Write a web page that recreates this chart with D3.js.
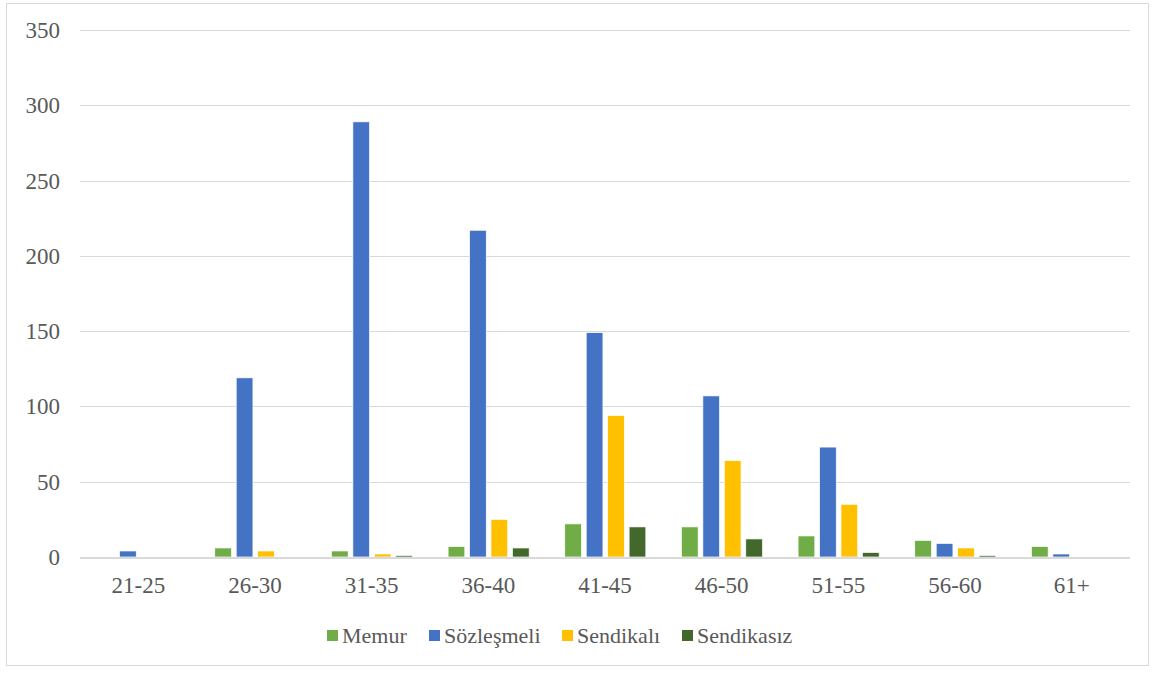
<!DOCTYPE html>
<html>
<head>
<meta charset="utf-8">
<script src="https://cdn.jsdelivr.net/npm/d3@7"></script>
<style>
  body { margin: 0; background: #fff; }
  svg { display: block; }
</style>
</head>
<body>
<script>
var ageGroups = ["21-25", "26-30", "31-35", "36-40", "41-45", "46-50", "51-55", "56-60", "61+"];
var seriesNames = ["Memur", "Sözleşmeli", "Sendikalı", "Sendikasız"];
var memur      = [0, 6, 4, 7, 22, 20, 14, 11, 7];
var sozlesmeli = [4, 119, 289, 217, 149, 107, 73, 9, 2];
var sendikali  = [0, 4, 2, 25, 94, 64, 35, 6, 0];
var sendikasiz = [0, 0, 1, 6, 20, 12, 3, 1, 0];
var yTicks = [0, 50, 100, 150, 200, 250, 300, 350];
var colors = ["#70ad47", "#4472c4", "#ffc000", "#43682b"];

function d3chart() {
  var values = [memur, sozlesmeli, sendikali, sendikasiz];

  var w = 1155, h = 677;
  var pLeft = 80, pRight = 1130, pTop = 30, pBottom = 557;
  var font = "Liberation Serif, Times New Roman, serif";

  var svg = d3.select("body").append("svg")
    .attr("width", w)
    .attr("height", h);

  // outer frame
  svg.append("rect")
    .attr("x", 6.5).attr("y", 3.5)
    .attr("width", 1142).attr("height", 662)
    .attr("fill", "#fff")
    .attr("stroke", "#d9d9d9");

  var x0 = d3.scaleBand().domain(ageGroups).range([pLeft, pRight]);
  var bw = x0.bandwidth();
  var x1 = d3.scaleBand().domain(seriesNames)
    .range([bw * 0.155, bw * 0.85]).paddingInner(0.22);
  var y = d3.scaleLinear().domain([0, 350]).range([pBottom, pTop]);

  // gridlines
  svg.append("g").selectAll("line")
    .data(yTicks.slice(1))
    .enter().append("line")
    .attr("x1", pLeft).attr("x2", pRight)
    .attr("y1", function(d) { return Math.round(y(d)) + 0.5; })
    .attr("y2", function(d) { return Math.round(y(d)) + 0.5; })
    .attr("stroke", "#d9d9d9");

  // y labels
  svg.append("g").selectAll("text")
    .data(yTicks)
    .enter().append("text")
    .text(function(d) { return d; })
    .attr("x", 60)
    .attr("y", function(d) { return y(d) + 8; })
    .attr("text-anchor", "end")
    .attr("font-family", font)
    .attr("font-size", "23px")
    .attr("fill", "#595959");

  // bars
  var groups = svg.append("g").selectAll("g")
    .data(ageGroups)
    .enter().append("g")
    .attr("transform", function(d) { return "translate(" + x0(d) + ",0)"; });

  groups.selectAll("rect")
    .data(function(d, i) {
      return seriesNames.map(function(s, j) { return { s: s, v: values[j][i], c: colors[j] }; });
    })
    .enter().append("rect")
    .attr("x", function(d) { return x1(d.s); })
    .attr("y", function(d) { return y(d.v); })
    .attr("width", x1.bandwidth())
    .attr("height", function(d) { return pBottom - y(d.v); })
    .attr("fill", function(d) { return d.c; })
    .attr("stroke", "#fff")
    .attr("stroke-width", 0.7);

  // baseline
  svg.append("line")
    .attr("x1", pLeft).attr("x2", pRight)
    .attr("y1", pBottom + 1).attr("y2", pBottom + 1)
    .attr("stroke", "#d9d9d9")
    .attr("stroke-width", 2);

  // x labels
  svg.append("g").selectAll("text")
    .data(ageGroups)
    .enter().append("text")
    .text(function(d) { return d; })
    .attr("x", function(d) { return x0(d) + bw / 2; })
    .attr("y", 593)
    .attr("text-anchor", "middle")
    .attr("font-family", font)
    .attr("font-size", "23px")
    .attr("fill", "#595959");

  // legend
  var legendX = [327, 429, 562, 682];
  var legend = svg.append("g").selectAll("g")
    .data(seriesNames)
    .enter().append("g")
    .attr("transform", function(d, i) { return "translate(" + legendX[i] + ",630)"; });

  legend.append("rect")
    .attr("width", 11).attr("height", 11)
    .attr("fill", function(d, i) { return colors[i]; });

  legend.append("text")
    .text(function(d) { return d; })
    .attr("x", 15)
    .attr("y", 13)
    .attr("font-family", font)
    .attr("font-size", "22px")
    .attr("fill", "#595959");
}

d3chart();
</script>
</body>
</html>
